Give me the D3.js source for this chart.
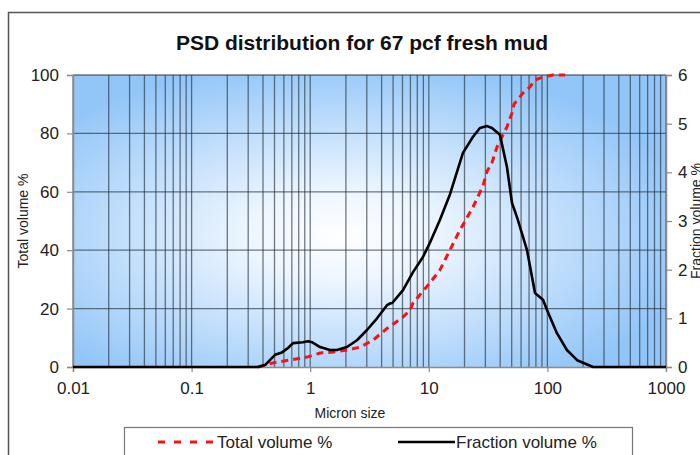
<!DOCTYPE html>
<html>
<head>
<meta charset="utf-8">
<script src="https://cdn.jsdelivr.net/npm/d3@7"></script>
<style>
  body { margin: 0; background: #fff; }
  svg { display: block; font-family: "Liberation Sans", Arial, sans-serif; }
</style>
</head>
<body>
<div id="chart"></div>
<script>
(function (d3) {
  'use strict';

  // data (micron size vs %)
  var totalSize = [0.363, 0.485, 0.676, 0.94, 1.21, 1.56, 2.04, 2.63, 3.39, 4.44, 6.06, 6.94, 7.36,
    10.2, 12.4, 15.1, 18.3, 23.6, 28.6, 31, 34.1, 37.6, 41.4, 45.6, 50.3, 52.3, 62.2, 71.3, 78.6, 91.8, 111, 141];
  var totalVolume = [0, 1.4, 2.4, 3.4, 4.8, 5.1, 5.8, 6.8, 9.2, 13.2, 17.1, 19.5, 21.9,
    28.8, 33.2, 40.1, 46.9, 54.8, 62, 67, 70, 75.3, 78.8, 82.2, 87, 90, 93.8, 95.9, 98.3, 99.3, 100, 100];

  var fractionSize = [0.01, 0.363, 0.416, 0.505, 0.578, 0.65, 0.716, 0.869, 0.957, 1.035, 1.21, 1.47, 1.68,
    2.04, 2.48, 3.01, 3.66, 4.44, 4.75, 4.9, 6.06, 7.36, 8.93, 10.2, 12.4, 15.1, 19.4, 23.6, 27, 31, 34.1,
    39.8, 45.6, 50.3, 55.4, 67.3, 74.2, 78.6, 91.8, 99.3, 120, 146, 178, 243, 1000];
  var fractionVolume = [0, 0, 0.04, 0.25, 0.3, 0.39, 0.49, 0.51, 0.53, 0.51, 0.41, 0.35, 0.35,
    0.41, 0.55, 0.76, 1.0, 1.27, 1.31, 1.31, 1.58, 1.95, 2.26, 2.55, 3.02, 3.55, 4.4, 4.73, 4.91, 4.95, 4.91,
    4.77, 4.11, 3.37, 3.08, 2.4, 1.85, 1.52, 1.38, 1.17, 0.7, 0.35, 0.14, 0, 0];

  var xTicks = [0.01, 0.1, 1, 10, 100, 1000];
  var xTickLabels = ["0.01", "0.1", "1", "10", "100", "1000"];
  var leftTicks = [0, 20, 40, 60, 80, 100];
  var rightTicks = [0, 1, 2, 3, 4, 5, 6];

  var width = 700, height = 455;
  var margin = { top: 75, right: 34, bottom: 88, left: 73 };
  var innerW = width - margin.left - margin.right;
  var innerH = height - margin.top - margin.bottom;

  var svg = d3.select("#chart").append("svg").attr("width", width).attr("height", height);

  // outer chart frame (runs off the right / bottom of the picture)
  svg.append("rect").attr("x", 8.5).attr("y", 12.5).attr("width", 800).attr("height", 600)
    .attr("fill", "none").attr("stroke", "#555").attr("stroke-width", 1.5);

  svg.append("text").attr("x", 362).attr("y", 50).attr("text-anchor", "middle")
    .attr("font-size", 21).attr("font-weight", "bold").attr("fill", "#111")
    .text("PSD distribution for 67 pcf fresh mud");

  var defs = svg.append("defs");
  var grad = defs.append("radialGradient").attr("id", "bg")
    .attr("cx", "45%").attr("cy", "55%").attr("r", "60%");
  grad.append("stop").attr("offset", "0%").attr("stop-color", "#ffffff");
  grad.append("stop").attr("offset", "25%").attr("stop-color", "#eef6ff");
  grad.append("stop").attr("offset", "100%").attr("stop-color", "#93c6f8");

  var g = svg.append("g").attr("transform", "translate(" + margin.left + "," + margin.top + ")");

  var x = d3.scaleLog().domain([0.01, 1000]).range([0, innerW]);
  var yL = d3.scaleLinear().domain([0, 100]).range([innerH, 0]);
  var yR = d3.scaleLinear().domain([0, 6]).range([innerH, 0]);

  g.append("rect").attr("width", innerW).attr("height", innerH).attr("fill", "url(#bg)");

  // grid
  var vGrid = [];
  for (var k = -2; k <= 2; k++) {
    for (var m = 1; m <= 9; m++) vGrid.push(m * Math.pow(10, k));
  }
  vGrid.push(1000);
  g.append("g").selectAll("line").data(vGrid).enter().append("line")
    .attr("x1", function (d) { return x(d); }).attr("x2", function (d) { return x(d); })
    .attr("y1", 0).attr("y2", innerH)
    .attr("stroke", "#26323e").attr("stroke-opacity", 0.65).attr("stroke-width", 1.3);
  g.append("g").selectAll("line").data([20, 40, 60, 80, 100]).enter().append("line")
    .attr("x1", 0).attr("x2", innerW)
    .attr("y1", function (d) { return yL(d); }).attr("y2", function (d) { return yL(d); })
    .attr("stroke", "#26323e").attr("stroke-opacity", 0.65).attr("stroke-width", 1.3);

  // axes
  var xAxis = d3.axisBottom(x).tickValues(xTicks).tickSize(5).tickPadding(7)
    .tickFormat(function (d, i) { return xTickLabels[i]; });
  var xAxisG = g.append("g").attr("transform", "translate(0," + innerH + ")").call(xAxis);
  var leftG = g.append("g").call(d3.axisLeft(yL).tickValues(leftTicks).tickSize(6).tickPadding(8));
  var rightG = g.append("g").attr("transform", "translate(" + innerW + ",0)")
    .call(d3.axisRight(yR).tickValues(rightTicks).tickFormat(d3.format("d")).tickSize(6).tickPadding(6));
  [xAxisG, leftG, rightG].forEach(function (a) {
    a.selectAll(".domain").attr("stroke", "#8a8a8a").attr("stroke-width", 1.5);
    a.selectAll(".tick line").attr("stroke", "#8a8a8a").attr("stroke-width", 1.2);
    a.selectAll("text").attr("font-size", 17).attr("fill", "#222")
      .style("font-family", "'Liberation Sans', Arial, sans-serif");
  });
  xAxisG.selectAll("text").attr("dy", "0.9em");

  // series
  var totalData = totalSize.map(function (s, i) { return [s, totalVolume[i]]; });
  var fracData = fractionSize.map(function (s, i) { return [s, fractionVolume[i]]; });

  g.append("path").datum(totalData)
    .attr("fill", "none").attr("stroke", "#ff1010").attr("stroke-width", 3)
    .attr("stroke-dasharray", "7,5")
    .attr("d", d3.line().x(function (d) { return x(d[0]); }).y(function (d) { return yL(d[1]); }));

  g.append("path").datum(fracData)
    .attr("fill", "none").attr("stroke", "#000").attr("stroke-width", 2.6)
    .attr("stroke-linejoin", "round")
    .attr("d", d3.line().x(function (d) { return x(d[0]); }).y(function (d) { return yR(d[1]); }));

  // axis titles (the right one is clipped by the picture edge, as in the original)
  svg.append("text").attr("transform", "translate(28,221) rotate(-90)").attr("text-anchor", "middle")
    .attr("font-size", 14).attr("fill", "#222").text("Total volume %");
  svg.append("text").attr("transform", "translate(701,221) rotate(-90)").attr("text-anchor", "middle")
    .attr("font-size", 14).attr("fill", "#222").text("Fraction volume %");
  svg.append("text").attr("x", 350).attr("y", 418).attr("text-anchor", "middle")
    .attr("font-size", 14).attr("fill", "#222").text("Micron size");

  // legend
  var leg = svg.append("g");
  leg.append("rect").attr("x", 124.5).attr("y", 427.5).attr("width", 508).attr("height", 60)
    .attr("fill", "#fff").attr("stroke", "#777").attr("stroke-width", 1.2);
  leg.append("line").attr("x1", 158).attr("x2", 213).attr("y1", 442).attr("y2", 442)
    .attr("stroke", "#ff1010").attr("stroke-width", 3).attr("stroke-dasharray", "7,9");
  leg.append("text").attr("x", 217).attr("y", 448).attr("font-size", 17).attr("fill", "#222")
    .text("Total volume %");
  leg.append("line").attr("x1", 398).attr("x2", 455).attr("y1", 442).attr("y2", 442)
    .attr("stroke", "#000").attr("stroke-width", 2.6);
  leg.append("text").attr("x", 456).attr("y", 448).attr("font-size", 17).attr("fill", "#222")
    .text("Fraction volume %");
})(d3);
</script>
</body>
</html>
